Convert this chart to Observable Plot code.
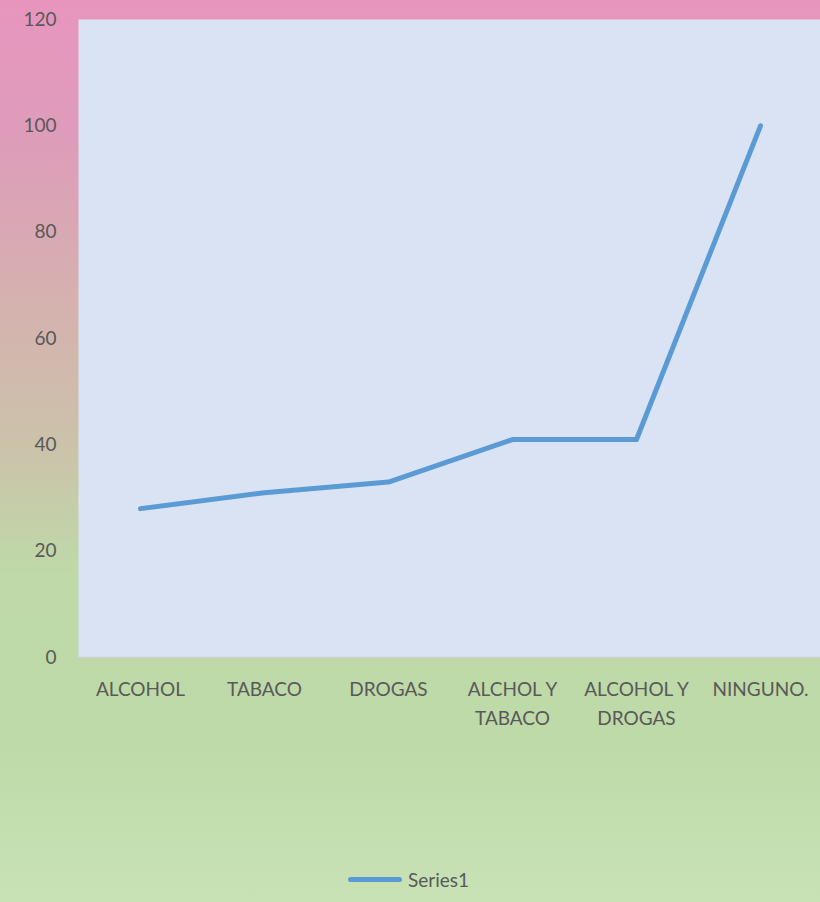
<!DOCTYPE html>
<html>
<head>
<meta charset="utf-8">
<script src="https://cdn.jsdelivr.net/npm/d3@7"></script>
<script src="https://cdn.jsdelivr.net/npm/@observablehq/plot@0.6"></script>
<style>
  html, body { margin: 0; padding: 0; }
  #wrap {
    position: relative; width: 820px; height: 902px; overflow: hidden;
    background: linear-gradient(to bottom, #e895be 0%, #dd9db9 16%, #d5b1af 33%, #cbc3aa 50%, #c4cfa9 57%, #bfd9a8 64%, #bedaa8 82%, #c8e2b6 100%);
    font-family: Lato, "Open Sans", sans-serif;
  }
  #legend {
    position: absolute; left: 348px; top: 868px; display: flex; align-items: center;
    font-size: 19px; color: #595959;
  }
  #legend .sw { width: 54px; height: 5px; border-radius: 3px; background: #5b9bd5; margin-right: 6px; }
</style>
</head>
<body>
<div id="wrap">
  <div id="chart"></div>
  <div id="legend"><span class="sw"></span><span>Series1</span></div>
</div>
<script>
const categories = ["ALCOHOL", "TABACO", "DROGAS", "ALCHOL Y\nTABACO", "ALCOHOL Y\nDROGAS", "NINGUNO."];
const series1 = [28, 31, 33, 41, 41, 100];
const yTicks = [0, 20, 40, 60, 80, 100, 120];
const seriesName = "Series1";

const data = categories.map((c, i) => ({category: c, value: series1[i], series: seriesName}));

const chart = Plot.plot({
  width: 820,
  height: 740,
  marginTop: 19,
  marginBottom: 83,
  marginLeft: 78,
  marginRight: -2,
  style: {background: "transparent", fontFamily: "Lato, 'Open Sans', sans-serif", fontSize: "19px", color: "#595959", overflow: "hidden"},
  x: {type: "point", domain: categories, padding: 0.5, label: null},
  y: {domain: [0, 120], label: null},
  marks: [
    Plot.frame({fill: "#dae3f3", stroke: null}),
    Plot.ruleY([0], {stroke: "#d0d0d0", strokeWidth: 1.5}),
    Plot.axisY({ticks: yTicks, tickSize: 0, tickPadding: 22, label: null, fill: "#595959", fontSize: 19}),
    Plot.axisX({tickSize: 0, tickPadding: 18, label: null, fill: "#595959", fontSize: 19, lineHeight: 1.52}),
    Plot.line(data, {x: "category", y: "value", stroke: "#5b9bd5", strokeWidth: 5, strokeLinecap: "round", strokeLinejoin: "round"})
  ]
});
document.getElementById("chart").appendChild(chart);
</script>
</body>
</html>
